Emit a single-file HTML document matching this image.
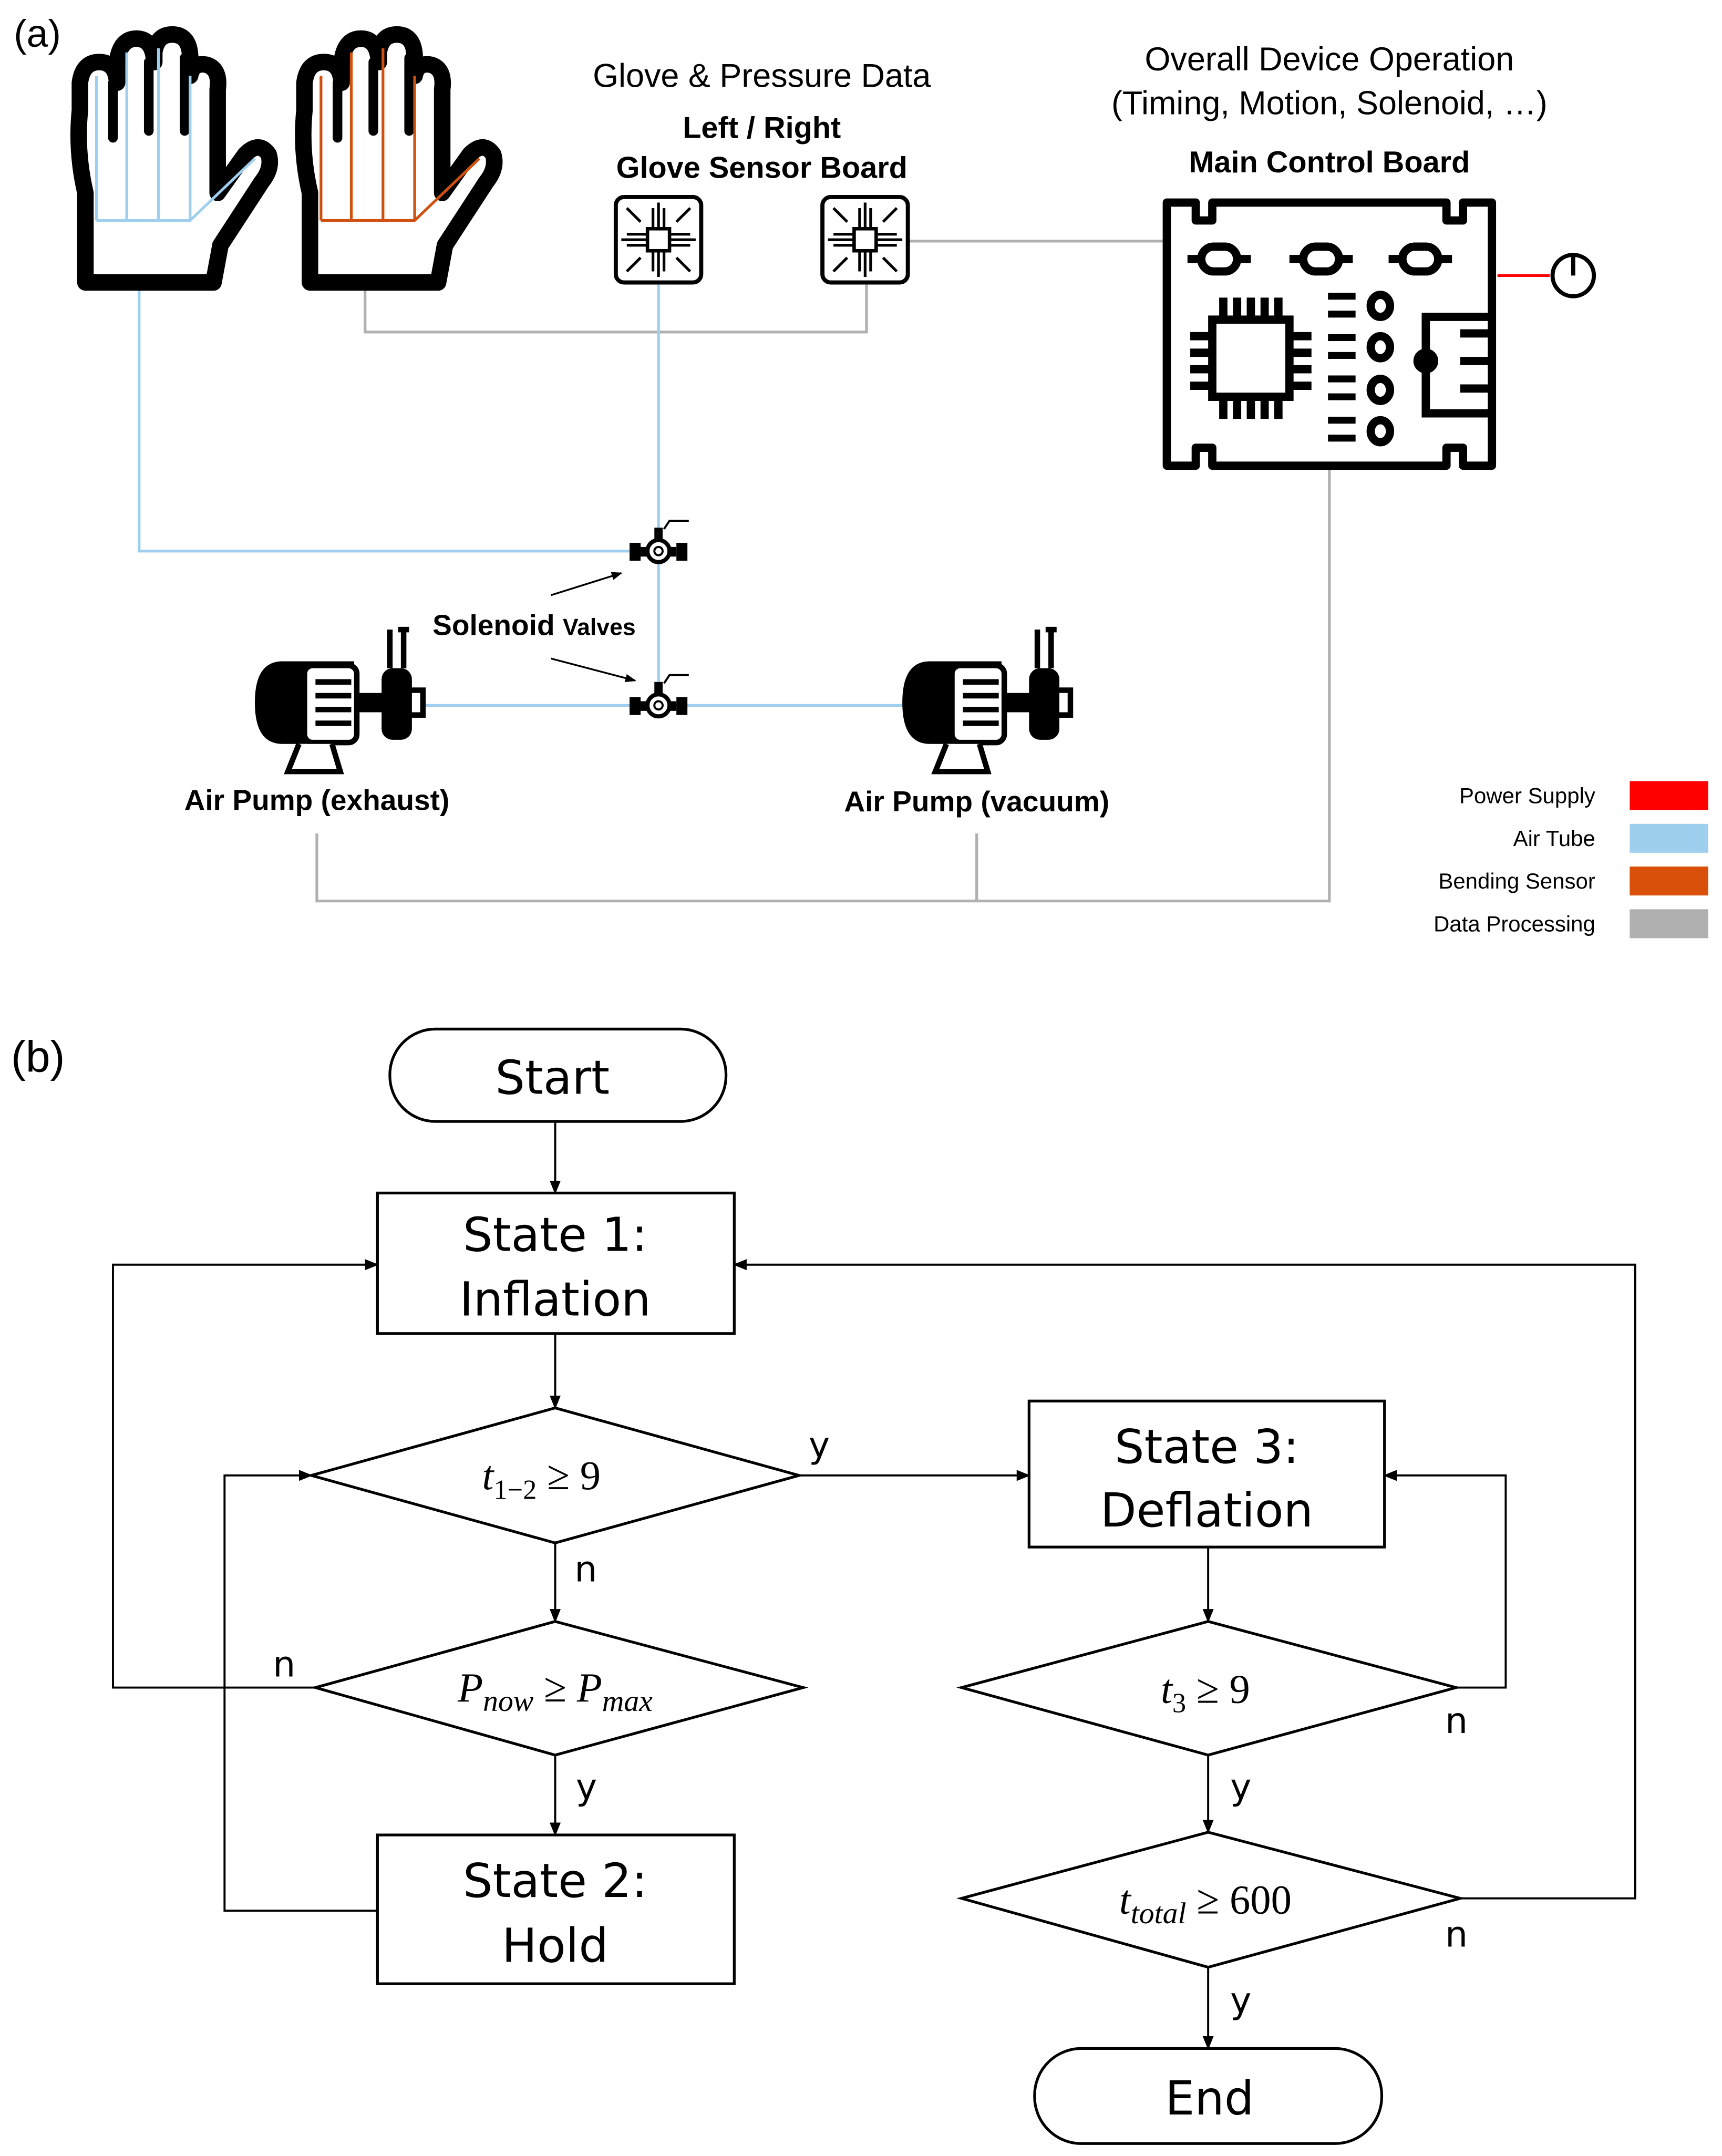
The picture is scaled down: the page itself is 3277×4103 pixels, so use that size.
<!DOCTYPE html>
<html><head><meta charset="utf-8"><style>html,body{margin:0;padding:0;background:#fff}svg{display:block}</style></head>
<body>
<svg width="3277" height="4103" viewBox="0 0 1250 1565" xmlns="http://www.w3.org/2000/svg" font-family="Liberation Sans, sans-serif">
<defs>
<marker id="ar" markerWidth="10" markerHeight="10" refX="9" refY="5" orient="auto" markerUnits="userSpaceOnUse"><path d="M0,1 L10,5 L0,9 Z" fill="#000"/></marker>
<marker id="as" markerWidth="8" markerHeight="8" refX="7" refY="4" orient="auto" markerUnits="userSpaceOnUse"><path d="M0,1 L8,4 L0,7 Z" fill="#000"/></marker>
<g id="hand">
<path d="M62,205 L62,140 Q55,110 58,80 L58,60 Q60,45 72,45 Q84,45 85,60 L85,45 Q87,28 99,28 Q111,28 112,45 L112,38 Q114,25 125,25 Q137,25 138,40 L138,55 Q140,45 150,47 Q160,50 158,65 L158,140 L178,112 Q188,102 195,112 Q198,122 190,132 L160,178 L155,205 Z" fill="#fff" stroke="#000" stroke-width="12" stroke-linejoin="round"/>
<path d="M82,60 L82,100 M108,45 L108,95 M134,42 L134,95" stroke="#000" stroke-width="7" stroke-linecap="round"/>
</g>
<g id="pcb">
<rect x="0" y="0" width="62" height="62" rx="6" fill="#fff" stroke="#000" stroke-width="3"/>
<rect x="23" y="23" width="16" height="16" fill="#fff" stroke="#000" stroke-width="2.5"/>
<path d="M27,23 V8 M31,23 V4 M35,23 V8 M27,39 V54 M31,39 V58 M35,39 V54 M23,27 H8 M23,31 H4 M23,35 H8 M39,27 H54 M39,31 H58 M39,35 H54 M8,8 L18,18 M54,8 L44,18 M8,54 L18,44 M54,54 L44,44" stroke="#000" stroke-width="2" fill="none"/>
</g>
<g id="valve">
<rect x="-21" y="-6" width="8" height="13" fill="#000"/><rect x="13" y="-6" width="8" height="13" fill="#000"/>
<rect x="-13" y="-3" width="26" height="7" fill="#000"/>
<circle cx="0" cy="0" r="8" fill="#fff" stroke="#000" stroke-width="3"/><circle cx="0" cy="0" r="3" fill="none" stroke="#000" stroke-width="1.5"/>
<rect x="-3" y="-17" width="6" height="8" fill="#000"/><path d="M4,-16 L8,-22 L22,-22" stroke="#000" stroke-width="1.5" fill="none"/>
</g>
<g id="pump">
<path d="M20,25 H72 V85 H20 Q0,85 0,55 Q0,25 20,25 Z" fill="#000"/>
<rect x="36" y="28" width="38" height="56" rx="6" fill="#fff" stroke="#000" stroke-width="4"/>
<path d="M44,40 H70 M44,50 H70 M44,60 H70 M44,70 H70" stroke="#000" stroke-width="4"/>
<rect x="74" y="48" width="22" height="14" fill="#000"/>
<rect x="92" y="30" width="22" height="52" rx="8" fill="#000"/>
<rect x="112" y="46" width="10" height="18" fill="#fff" stroke="#000" stroke-width="4"/>
<path d="M98,30 V2 M108,30 V2 M104,2 H112" stroke="#000" stroke-width="4"/>
<path d="M32,85 L24,105 H62 L56,85" fill="#fff" stroke="#000" stroke-width="4"/>
</g>
</defs>

<text x="10" y="34" font-size="28">(a)</text>
<!-- connectors behind -->
<g fill="none" stroke-width="2">
<path d="M660,175 H845 M265,205 V241 H629 V205 M965,340 V654 H230 V605 M709,605 V654" stroke="#b0b0b0"/>
<path d="M478,205 V512 M101,205 V400 H470 M305,512 H660" stroke="#9fcfee"/>
<path d="M1087,200 H1125" stroke="#f00"/>
</g>
<!-- hands -->
<use href="#hand"/>
<path d="M70,55 V160 M92,38 V160 M115,35 V160 M138,55 V160 M70,160 H138 L185,115" stroke="#9fcfee" stroke-width="2" fill="none"/>
<use href="#hand" x="163"/>
<path d="M233,55 V160 M255,38 V160 M278,35 V160 M301,55 V160 M233,160 H301 L348,115" stroke="#d05010" stroke-width="2" fill="none"/>

<text x="553" y="63" font-size="24" text-anchor="middle">Glove &amp; Pressure Data</text>
<text x="553" y="100" font-size="22" font-weight="bold" text-anchor="middle">Left / Right</text>
<text x="553" y="129" font-size="22" font-weight="bold" text-anchor="middle">Glove Sensor Board</text>
<use href="#pcb" x="447" y="143"/><use href="#pcb" x="597" y="143"/>

<text x="965" y="51" font-size="24" text-anchor="middle">Overall Device Operation</text>
<text x="965" y="83" font-size="24" text-anchor="middle">(Timing, Motion, Solenoid, …)</text>
<text x="965" y="125" font-size="22" font-weight="bold" text-anchor="middle">Main Control Board</text>
<!-- control board -->
<path d="M847,147 H868 V160 H880 V147 H1050 V160 H1062 V147 H1083 V338 H1062 V325 H1050 V338 H880 V325 H868 V338 H847 Z" fill="#fff" stroke="#000" stroke-width="6" stroke-linejoin="round"/>
<g fill="none" stroke="#000" stroke-width="6">
<rect x="872" y="179" width="26" height="18" rx="9"/><rect x="946" y="179" width="26" height="18" rx="9"/><rect x="1018" y="179" width="26" height="18" rx="9"/>
<path d="M862,188 H872 M898,188 H908 M936,188 H946 M972,188 H982 M1008,188 H1018 M1044,188 H1054"/>
<rect x="880" y="232" width="56" height="56"/>
<path d="M888,232 V216 M898,232 V216 M908,232 V216 M918,232 V216 M928,232 V216 M888,288 V304 M898,288 V304 M908,288 V304 M918,288 V304 M928,288 V304 M880,244 H864 M880,256 H864 M880,268 H864 M880,280 H864 M936,244 H952 M936,256 H952 M936,268 H952 M936,280 H952"/>
<path d="M964,215 H984 M964,228 H984 M964,245 H984 M964,258 H984 M964,275 H984 M964,288 H984 M964,305 H984 M964,318 H984" stroke-width="5"/>
<ellipse cx="1002" cy="222" rx="7" ry="8"/><ellipse cx="1002" cy="252" rx="7" ry="8"/><ellipse cx="1002" cy="283" rx="7" ry="8"/><ellipse cx="1002" cy="313" rx="7" ry="8"/>
<path d="M1083,230 H1035 V300 H1083"/><circle cx="1035" cy="262" r="6"/>
<path d="M1060,242 H1083 M1060,262 H1083 M1060,282 H1083"/>
</g>
<circle cx="1142" cy="200" r="15" fill="none" stroke="#000" stroke-width="3"/>
<path d="M1142,184 V200" stroke="#000" stroke-width="3"/>

<use href="#valve" x="478" y="400"/><use href="#valve" x="478" y="512"/>
<path d="M400,432 L451,416" stroke="#000" stroke-width="1.3" marker-end="url(#as)"/>
<path d="M400,478 L461,494" stroke="#000" stroke-width="1.3" marker-end="url(#as)"/>
<text x="314" y="461" font-size="21" font-weight="bold">Solenoid <tspan font-size="17">Valves</tspan></text>

<use href="#pump" x="185" y="455"/><use href="#pump" x="655" y="455"/>
<text x="230" y="588" font-size="21" font-weight="bold" text-anchor="middle">Air Pump (exhaust)</text>
<text x="709" y="589" font-size="21" font-weight="bold" text-anchor="middle">Air Pump (vacuum)</text>

<g font-size="16" text-anchor="end">
<text x="1158" y="583">Power Supply</text><text x="1158" y="614">Air Tube</text><text x="1158" y="645">Bending Sensor</text><text x="1158" y="676">Data Processing</text>
</g>
<rect x="1183" y="567" width="57" height="21" fill="#f00"/>
<rect x="1183" y="598" width="57" height="21" fill="#9fcfee"/>
<rect x="1183" y="629" width="57" height="21" fill="#d9500a"/>
<rect x="1183" y="660" width="57" height="21" fill="#b0b0b0"/>

<!-- (b) -->
<text x="8" y="778" font-size="32">(b)</text>
<g fill="none" stroke="#000" stroke-width="2">
<rect x="283" y="747" width="244" height="67" rx="33" fill="#fff"/>
<rect x="274" y="866" width="259" height="102" fill="#fff"/>
<rect x="747" y="1017" width="258" height="106" fill="#fff"/>
<rect x="274" y="1332" width="259" height="108" fill="#fff"/>
<rect x="751" y="1487" width="252" height="69" rx="34" fill="#fff"/>
<path d="M226,1071 L403,1022 L580,1071 L403,1120 Z"/>
<path d="M229,1225 L403,1177 L583,1225 L403,1274 Z"/>
<path d="M698,1225 L877,1177 L1057,1225 L877,1274 Z"/>
<path d="M698,1378 L877,1330 L1060,1378 L877,1428 Z"/>
</g>
<g fill="none" stroke="#000" stroke-width="1.5" marker-end="url(#ar)">
<path d="M403,814 V866"/>
<path d="M403,968 V1022"/>
<path d="M580,1071 H747"/>
<path d="M403,1120 V1177"/>
<path d="M403,1274 V1332"/>
<path d="M274,1387 H163 V1071 H226"/>
<path d="M229,1225 H82 V918 H274"/>
<path d="M877,1123 V1177"/>
<path d="M1057,1225 H1093 V1071 H1005"/>
<path d="M877,1274 V1330"/>
<path d="M1060,1378 H1187 V918 H533"/>
<path d="M877,1428 V1487"/>
</g>
<g font-family="DejaVu Sans, Liberation Sans, sans-serif" font-size="34" text-anchor="middle">
<text x="401" y="794">Start</text>
<text x="403" y="908">State 1:</text><text x="403" y="955">Inflation</text>
<text x="876" y="1062">State 3:</text><text x="876" y="1108">Deflation</text>
<text x="403" y="1377">State 2:</text><text x="403" y="1424">Hold</text>
<text x="878" y="1535">End</text>
</g>
<g font-family="DejaVu Sans, Liberation Sans, sans-serif" font-size="26">
<text x="587" y="1058">y</text><text x="417" y="1148">n</text><text x="198" y="1217">n</text>
<text x="418" y="1306">y</text><text x="1049" y="1258">n</text><text x="893" y="1306">y</text>
<text x="1049" y="1413">n</text><text x="893" y="1461">y</text>
</g>
<g font-family="Liberation Serif, serif" font-size="30" text-anchor="middle">
<text x="393" y="1081"><tspan font-style="italic">t</tspan><tspan font-size="20" dy="7">1−2</tspan><tspan dy="-7"> ≥ 9</tspan></text>
<text x="403" y="1235"><tspan font-style="italic">P</tspan><tspan font-size="22" dy="7" font-style="italic">now</tspan><tspan dy="-7"> ≥ </tspan><tspan font-style="italic">P</tspan><tspan font-size="22" dy="7" font-style="italic">max</tspan></text>
<text x="875" y="1236"><tspan font-style="italic">t</tspan><tspan font-size="20" dy="7">3</tspan><tspan dy="-7"> ≥ 9</tspan></text>
<text x="875" y="1389"><tspan font-style="italic">t</tspan><tspan font-size="22" dy="7" font-style="italic">total</tspan><tspan dy="-7"> ≥ 600</tspan></text>
</g>
</svg>
</body></html>
